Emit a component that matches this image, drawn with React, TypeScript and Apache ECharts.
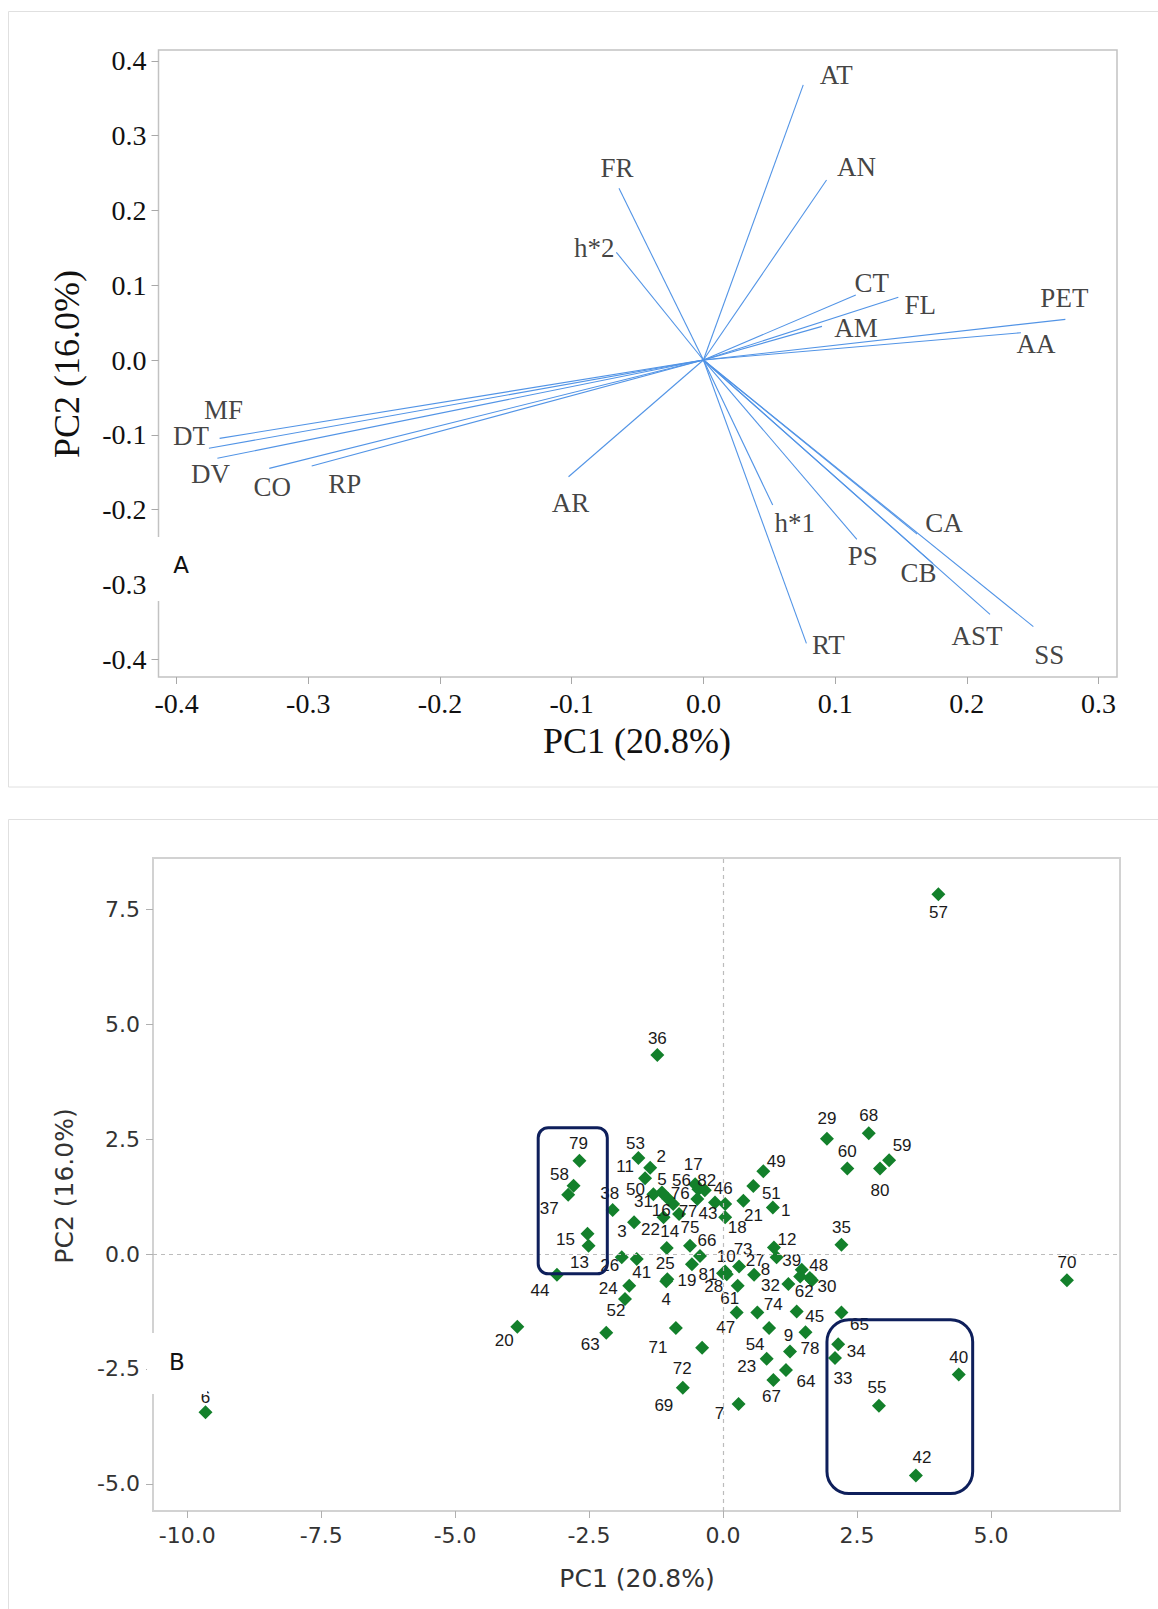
import React, { useEffect, useRef } from 'react';
import * as echarts from 'echarts';

const W = 1158;
const H = 1609;

// ---------- Panel A: loadings ----------
const A_VARS = ['AT', 'AN', 'FR', 'h*2', 'CT', 'FL', 'AM', 'PET', 'AA', 'MF', 'DT', 'DV', 'CO', 'RP', 'AR', 'h*1', 'PS', 'CA', 'CB', 'AST', 'SS', 'RT'];
const A_PC1 = [0.0758, 0.0935, -0.0641, -0.0661, 0.1157, 0.148, 0.09, 0.2748, 0.2411, -0.3673, -0.3754, -0.369, -0.3296, -0.2974, -0.1024, 0.0526, 0.1165, 0.1622, 0.174, 0.2176, 0.2505, 0.0782];
const A_PC2 = [0.368, 0.2408, 0.2297, 0.1441, 0.087, 0.0839, 0.045, 0.0544, 0.0365, -0.1048, -0.1181, -0.1315, -0.1449, -0.1418, -0.1561, -0.194, -0.2399, -0.2328, -0.2716, -0.3403, -0.3567, -0.379];
const A_LABEL_OFFSET: [number, number][] = [[33, -10], [30, -13], [-2, -20], [-22, -4], [16, -12], [22, 8], [34, 2], [-1, -21], [15, 11], [4, -28], [-18, -12], [-7, 16], [3, 19], [33, 18], [2, 26], [22, 18], [6, 17], [27, -11], [-14, 10], [-13, 22], [16, 28], [22, 2]];
const A_X_TICKS = [-0.4, -0.3, -0.2, -0.1, 0, 0.1, 0.2, 0.3];
const A_Y_TICKS = [-0.4, -0.3, -0.2, -0.1, 0, 0.1, 0.2, 0.3, 0.4];

// ---------- Panel B: scores ----------
const B_IDS = ['1', '2', '3', '4', '5', '6', '7', '8', '9', '10', '11', '12', '13', '14', '15', '16', '17', '18', '19', '20', '21', '22', '23', '24', '25', '26', '27', '28', '29', '30', '31', '32', '33', '34', '35', '36', '37', '38', '39', '40', '41', '42', '43', '44', '45', '46', '47', '48', '49', '50', '51', '52', '53', '54', '55', '56', '57', '58', '59', '60', '61', '62', '63', '64', '65', '66', '67', '68', '69', '70', '71', '72', '73', '74', '75', '76', '77', '78', '79', '80', '81', '82'];
const B_PC1 = [0.93, -1.36, -1.66, -1.06, -1.14, -9.66, 0.29, 1.0, 1.54, 0.04, -1.455, 0.95, -2.51, -1.05, -2.53, -0.93, -0.52, 0.04, -0.58, -3.84, 0.38, -1.11, 0.815, -1.75, -1.04, -1.89, 0.58, 0.07, 1.94, 1.66, -1.02, 1.22, 2.09, 2.15, 2.21, -1.226, -2.89, -2.06, 1.47, 4.4, -1.61, 3.6, -0.15, -3.1, 1.375, 0.04, 0.255, 1.62, 0.752, -1.3, 0.566, -1.83, -1.58, 0.86, 2.91, -0.46, 4.02, -2.79, 3.1, 2.32, 0.274, 1.44, -2.18, 1.175, 2.21, -0.43, 0.94, 2.72, -0.75, 6.42, -0.88, -0.39, 0.3, 0.64, -0.616, -0.48, -0.82, 1.25, -2.68, 2.93, 0.0, -0.34];
const B_PC2 = [1.01, 1.88, 0.69, -0.59, 1.34, -3.44, -3.26, -0.07, -1.7, -0.38, 1.65, 0.14, 0.18, 0.13, 0.44, 1.09, 1.52, 0.8, -0.22, -1.58, 1.16, 0.8, -2.28, -0.69, -0.55, -0.07, -0.45, -0.44, 2.51, -0.57, 1.2, -0.65, -2.26, -1.96, 0.2, 4.33, 1.29, 0.96, -0.34, -2.62, -0.11, -4.82, 1.12, -0.45, -1.25, 1.09, -1.27, -0.52, 1.8, 1.3, 1.48, -0.98, 2.09, -1.61, -3.3, 1.41, 7.83, 1.485, 2.04, 1.86, -0.69, -0.49, -1.71, -2.52, -1.27, -0.04, -2.74, 2.63, -2.91, -0.57, -1.61, -2.04, -0.27, -1.27, 0.18, 1.2, 0.87, -2.12, 2.03, 1.86, -0.42, 1.39];
const B_LABEL_OFFSET: [number, number][] = [[13, 3], [11, -11], [-12, 9], [0, 18], [0, -13], [0, -15], [-19, 10], [-11, 12], [-17, 3], [1, -15], [-20, -12], [13, -8], [-9, 17], [3, -17], [-22, 6], [-12, 7], [-2, -20], [12, 10], [-5, 16], [-13, 14], [10, 15], [-13, 12], [-20, 8], [-21, 3], [-2, -16], [-12, 8], [1, -14], [-13, 12], [0, -20], [15, 6], [-25, 3], [-18, 2], [8, 21], [18, 7], [0, -17], [0, -17], [-19, 14], [-3, -16], [-10, -9], [0, -17], [5, 13], [6, -18], [-7, 11], [-17, 16], [18, 5], [-2, -15], [-11, 15], [9, -12], [13, -10], [-18, -5], [18, 7], [-9, 11], [-3, -14], [-14, 16], [-2, -18], [-17, -9], [0, 18], [-14, -11], [13, -15], [0, -17], [-8, 13], [4, 15], [-16, 12], [20, 12], [18, 12], [7, -15], [-2, 17], [0, -18], [-19, 18], [0, -18], [-18, 19], [-20, 21], [4, -17], [16, -8], [0, -18], [-17, -5], [9, -3], [20, -3], [-1, -17], [0, 22], [-15, 1], [2, -10]];
const B_X_TICKS = [-10, -7.5, -5, -2.5, 0, 2.5, 5];
const B_Y_TICKS = [-5, -2.5, 0, 2.5, 5, 7.5];
// highlighted groups: [x1, y1, x2, y2] in score units
const BOX_LEFT_GROUP = [-3.45, 2.75, -2.16, -0.43];
const BOX_RIGHT_GROUP = [1.94, -1.43, 4.66, -5.21];

const SERIF = 'Liberation Serif, Times New Roman, serif';
const SANS = 'DejaVu Sans, Arial, sans-serif';
const ARIAL = 'Liberation Sans, Arial, sans-serif';

export default function App() {
  const ref = useRef<HTMLDivElement>(null);

  useEffect(() => {
    document.body.style.margin = '0';
    const chart = echarts.init(ref.current!, null, { renderer: 'svg' });

    const axisA = (ticks: number[], min: number, max: number, grid: number) => ({
      type: 'value',
      gridIndex: grid,
      min,
      max,
      axisLine: { show: false, onZero: false },
      splitLine: { show: false },
      axisTick: { show: true, length: 7, lineStyle: { color: '#a8a8a8', width: 1 }, customValues: ticks },
      axisLabel: {
        customValues: ticks,
        formatter: (v: number) => v.toFixed(1),
        fontFamily: SERIF,
        fontSize: 28,
        color: '#111',
        margin: 12,
      },
    });
    const axisB = (ticks: number[], min: number, max: number, grid: number) => ({
      type: 'value',
      gridIndex: grid,
      min,
      max,
      axisLine: { show: false, onZero: false },
      splitLine: { show: false },
      axisTick: { show: true, length: 7, lineStyle: { color: '#b0b0b0', width: 1 }, customValues: ticks },
      axisLabel: {
        customValues: ticks,
        formatter: (v: number) => v.toFixed(1),
        fontFamily: SANS,
        fontSize: 22,
        color: '#333',
        margin: 13,
      },
    });

    chart.setOption({
      animation: false,
      backgroundColor: '#fff',
      grid: [
        { left: 158.5, top: 50, width: 958.5, height: 627, show: true, borderColor: '#c2c2c2', borderWidth: 1.5, backgroundColor: 'transparent' },
        { left: 153, top: 858, width: 967, height: 653, show: true, borderColor: '#d2d2d2', borderWidth: 2, backgroundColor: 'transparent' },
      ],
      xAxis: [axisA(A_X_TICKS, -0.4137, 0.314, 0), axisB(B_X_TICKS, -10.64, 7.41, 1)],
      yAxis: [axisA(A_Y_TICKS, -0.424, 0.4147, 0), axisB(B_Y_TICKS, -5.59, 8.616, 1)],
      series: [
        {
          type: 'lines',
          coordinateSystem: 'cartesian2d',
          xAxisIndex: 0,
          yAxisIndex: 0,
          silent: true,
          symbol: ['none', 'none'],
          lineStyle: { color: '#5294e6', width: 1.1, opacity: 1 },
          data: A_VARS.map((n, i) => ({ name: n, coords: [[0, 0], [A_PC1[i], A_PC2[i]]] })),
        },
        {
          type: 'scatter',
          xAxisIndex: 0,
          yAxisIndex: 0,
          silent: true,
          symbolSize: 0,
          itemStyle: { color: 'transparent' },
          label: {
            show: true,
            position: 'inside',
            formatter: '{b}',
            fontFamily: SERIF,
            fontSize: 27,
            color: '#111',
          },
          data: A_VARS.map((n, i) => ({ name: n, value: [A_PC1[i], A_PC2[i]], label: { offset: A_LABEL_OFFSET[i] } })),
        },
        {
          type: 'scatter',
          xAxisIndex: 1,
          yAxisIndex: 1,
          silent: true,
          symbol: 'diamond',
          symbolSize: 14,
          itemStyle: { color: '#13802b', opacity: 1 },
          label: {
            show: true,
            position: 'inside',
            formatter: '{b}',
            fontFamily: ARIAL,
            fontSize: 17,
            color: '#1a1a1a',
          },
          markLine: {
            silent: true,
            symbol: ['none', 'none'],
            label: { show: false },
            lineStyle: { color: '#bcbcbc', type: [4, 4], width: 1.2 },
            data: [{ xAxis: 0 }, { yAxis: 0 }],
          },
          data: B_IDS.map((id, i) => ({ name: id, value: [B_PC1[i], B_PC2[i]], label: { offset: B_LABEL_OFFSET[i] } })),
        },
      ],
    });

    const px = (x: number, y: number) => chart.convertToPixel({ xAxisIndex: 1, yAxisIndex: 1 }, [x, y]) as number[];
    const boxRect = (b: number[], r: number) => {
      const p1 = px(b[0], b[1]);
      const p2 = px(b[2], b[3]);
      return {
        type: 'rect',
        z: 90,
        silent: true,
        shape: { x: p1[0], y: p1[1], width: p2[0] - p1[0], height: p2[1] - p1[1], r },
        style: { fill: 'none', stroke: '#0e1f5b', lineWidth: 3 },
      };
    };

    chart.setOption({
      graphic: [
        { type: 'rect', z: 0, silent: true, shape: { x: 8.5, y: 11.5, width: 1200, height: 775.5 }, style: { fill: 'none', stroke: '#e0e0e0', lineWidth: 1 } },
        { type: 'rect', z: 0, silent: true, shape: { x: 8.5, y: 819.5, width: 1200, height: 820 }, style: { fill: 'none', stroke: '#e0e0e0', lineWidth: 1 } },
        // axis titles
        { type: 'text', z: 50, silent: true, x: 637, y: 741, style: { text: 'PC1 (20.8%)', fontFamily: SERIF, fontSize: 36, fill: '#111', align: 'center', verticalAlign: 'middle' } },
        { type: 'text', z: 50, silent: true, x: 67, y: 364, rotation: Math.PI / 2, style: { text: 'PC2 (16.0%)', fontFamily: SERIF, fontSize: 36, fill: '#111', align: 'center', verticalAlign: 'middle' } },
        { type: 'text', z: 50, silent: true, x: 637, y: 1578, style: { text: 'PC1 (20.8%)', fontFamily: SANS, fontSize: 25, fill: '#333', align: 'center', verticalAlign: 'middle' } },
        { type: 'text', z: 50, silent: true, x: 64, y: 1186, rotation: Math.PI / 2, style: { text: 'PC2 (16.0%)', fontFamily: SANS, fontSize: 25, fill: '#333', align: 'center', verticalAlign: 'middle' } },
        // panel letters
        { type: 'rect', z: 100, silent: true, shape: { x: 149, y: 537, width: 52, height: 64 }, style: { fill: '#fff' } },
        { type: 'text', z: 101, silent: true, x: 181, y: 565, style: { text: 'A', fontFamily: SANS, fontSize: 23, fill: '#111', align: 'center', verticalAlign: 'middle' } },
        { type: 'rect', z: 100, silent: true, shape: { x: 147, y: 1333, width: 60, height: 61 }, style: { fill: '#fff' } },
        { type: 'text', z: 101, silent: true, x: 177, y: 1362, style: { text: 'B', fontFamily: SANS, fontSize: 23, fill: '#111', align: 'center', verticalAlign: 'middle' } },
        boxRect(BOX_LEFT_GROUP, 10),
        boxRect(BOX_RIGHT_GROUP, 22),
      ],
    });

    return () => chart.dispose();
  }, []);

  return <div ref={ref} style={{ width: W, height: H }} />;
}
